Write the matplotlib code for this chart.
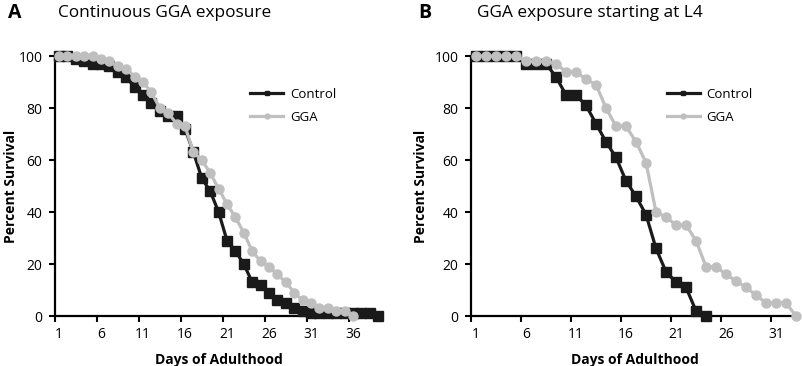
import matplotlib
matplotlib.use("Agg")
import matplotlib.pyplot as plt
import numpy as np

plt.rcParams['font.family'] = ['Open Sans', 'DejaVu Sans']

# Panel A: continuous GGA exposure
days_a_ctrl = list(range(1, 40))
ctrl_a = [100, 100, 99, 98, 97, 97, 96, 94, 92, 88, 85, 82, 79, 77, 77, 72, 63, 53, 48, 40,
          29, 25, 20, 13, 12, 9, 6, 5, 3, 2, 1, 1, 1, 1, 1, 1, 1, 1, 0]
days_a_gga = list(range(1, 37))
gga_a = [100, 100, 100, 100, 100, 99, 98, 96, 95, 92, 90, 86, 80, 78, 74, 73, 63, 60, 55, 49,
         43, 38, 32, 25, 21, 19, 16, 13, 9, 6, 5, 3, 3, 2, 2, 0]

# Panel B: GGA exposure starting at L4
days_b_ctrl = list(range(1, 25))
ctrl_b = [100, 100, 100, 100, 100, 97, 97, 97, 92, 85, 85, 81, 74, 67, 61, 52, 46, 39, 26, 17,
          13, 11, 2, 0]
days_b_gga = list(range(1, 34))
gga_b = [100, 100, 100, 100, 100, 98, 98, 98, 97, 94, 94, 91, 89, 80, 73, 73, 67, 59, 40, 38,
         35, 35, 29, 19, 19, 16, 13.5, 11, 8, 5, 5, 5, 0]

ticks_a = [1, 6, 11, 16, 21, 26, 31, 36]
ticks_b = [1, 6, 11, 16, 21, 26, 31]
yticks = [0, 20, 40, 60, 80, 100]

W, H = 803, 366
fig = plt.figure(figsize=(W / 100, H / 100), dpi=100)

BLACK = '#1a1a1a'
GRAY = '#bfbfbf'


def px_axes(x0, x1, ytop, ybot):
    return fig.add_axes([x0 / W, 1 - ybot / H, (x1 - x0) / W, (ybot - ytop) / H])


def style(ax, xmax, ticks, ylab_x):
    ax.set_xlim(0.5, xmax)
    ax.set_ylim(0, 100)
    for s in ['top', 'right']:
        ax.spines[s].set_visible(False)
    for s in ['left', 'bottom']:
        ax.spines[s].set_linewidth(1.6)
        ax.spines[s].set_color('black')
    ax.set_yticks(yticks)
    ax.set_xticks(ticks)
    ax.set_xticks([t - 0.5 for t in ticks], minor=True)
    ax.tick_params(axis='x', which='major', length=0, labelsize=10, pad=8)
    ax.tick_params(axis='x', which='minor', length=4, width=1.5, direction='out')
    ax.tick_params(axis='y', length=4, width=1.5, direction='out', labelsize=10, pad=5)
    ax.set_xlabel('Days of Adulthood', fontsize=10, fontweight='bold', labelpad=8)
    ax.set_ylabel('Percent Survival', fontsize=10, fontweight='bold')
    ax.yaxis.set_label_coords(ylab_x, 0.5)


def draw(ax, dc, yc, dg, yg):
    ax.plot(dc, yc, color=BLACK, lw=2.3, marker='s', ms=6.5, mfc=BLACK, mec=BLACK,
            label='Control', clip_on=False, zorder=3)
    ax.plot(dg, yg, color=GRAY, lw=2.3, marker='o', ms=6.5, mfc=GRAY, mec=GRAY,
            label='GGA', clip_on=False, zorder=4)
    ax.legend(loc='upper left', bbox_to_anchor=(0.597, 0.877), frameon=False,
              borderpad=0, borderaxespad=0, handlelength=2.5, handletextpad=0.5,
              labelspacing=0.75, markerscale=0.55, fontsize=9.5)


axA = px_axes(54.8, 382.4, 56, 316)
draw(axA, days_a_ctrl, ctrl_a, days_a_gga, gga_a)
style(axA, 39.5, ticks_a, -0.112)

axB = px_axes(471, 799, 56, 316)
draw(axB, days_b_ctrl, ctrl_b, days_b_gga, gga_b)
style(axB, 33.3, ticks_b, -0.131)

fig.text(8 / W, 1 - 13 / H, 'A', fontsize=14, fontweight='bold', va='center', ha='left')
fig.text(165 / W, 1 - 13 / H, 'Continuous GGA exposure', fontsize=12.4, va='center', ha='center')
fig.text(418 / W, 1 - 13 / H, 'B', fontsize=14, fontweight='bold', va='center', ha='left')
fig.text(590 / W, 1 - 13 / H, 'GGA exposure starting at L4', fontsize=12.4, va='center', ha='center')

fig.savefig('out.png', dpi=100)
